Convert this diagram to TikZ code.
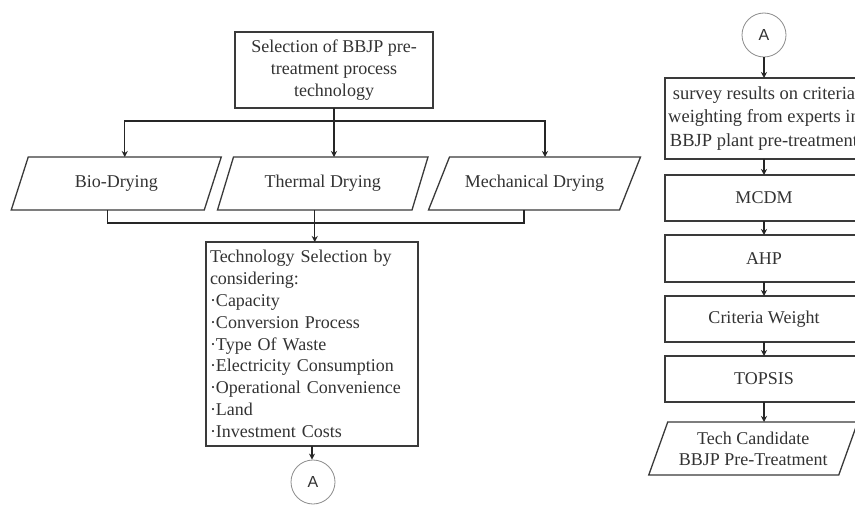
\documentclass[tikz,border=0pt]{standalone}
\usepackage{fontspec}
\setmainfont{Liberation Serif}
\newfontfamily\circfont{Liberation Sans}
\usetikzlibrary{arrows.meta,calc}
\definecolor{ink}{HTML}{333333}
\definecolor{rim}{HTML}{3A3A3A}
\definecolor{ringgray}{HTML}{8C8C8C}
% slanted outline around a plain node: #1 node name, #2 half of the slant
\newcommand\drawpgram[2]{%
  \draw[pgline] ($(#1.north west)+(#2,0)$) -- ($(#1.north east)+(#2,0)$)
    -- ($(#1.south east)-(#2,0)$) -- ($(#1.south west)-(#2,0)$) -- cycle;
  \coordinate (#1-in) at ($(#1.north)+(#2,0)$);
  \coordinate (#1-out) at ($(#1.south)-(#2,0)$);}
\begin{document}
\begin{tikzpicture}[x=1pt,y=1pt,
  txt/.style={font=\fontsize{18}{21.8}\selectfont, text=ink},
  box/.style={txt, draw=rim, line width=1.3pt, inner sep=0pt, outer sep=0pt, align=center},
  slab/.style={txt, inner sep=0pt, outer sep=0pt, align=center, minimum height=53pt},
  pgline/.style={draw=rim, line width=1.3pt, line join=miter},
  link/.style={draw=black!85, line width=1.3pt},
  arr/.style={link, -{Stealth[length=6pt,width=6pt]}},
  conn/.style={circle, draw=ringgray, line width=0.8pt, minimum size=44pt, inner sep=0pt,
    font=\circfont\fontsize{16}{16}\selectfont, text=ink}
]
\useasboundingbox (0,-506) rectangle (855,0);
\clip (0,-506) rectangle (855,0);
\fill[white] (0,-506) rectangle (855,0);

% ---- left column: choice of pre-treatment technology ----
\node[box, minimum width=198pt, minimum height=76pt] (sel) at (334,-70)
  {Selection of BBJP pre-\\treatment process\\technology};

\node[slab, minimum width=193pt] (bio) at (116.25,-183.5) {Bio-Drying};
\node[slab, minimum width=194.5pt] (thermal) at (322.75,-183.5) {Thermal Drying};
\node[slab, minimum width=191pt] (mech) at (534.5,-183.5) {Mechanical Drying};
\drawpgram{bio}{8.5}
\drawpgram{thermal}{8}
\drawpgram{mech}{10.5}

\node[box, minimum width=212pt, minimum height=204pt, text width=204pt, align=left] (tech) at (312,-344)
  {Technology Selection by\\considering:\\·Capacity\\·Conversion Process\\·Type Of Waste\\%
   ·Electricity Consumption\\·Operational Convenience\\·Land\\·Investment Costs};

\node[conn] (ca) at (313,-482) {A};

\draw[arr] (sel.south) -- ++(0,-13) -| (bio-in);
\draw[arr] (sel.south) -- (sel.south |- thermal-in);
\draw[arr] (sel.south) -- ++(0,-13) -| (mech-in);
\draw[link] (bio-out) -- ++(0,-13) -| (mech-out);
\draw[arr] (thermal-out) -- (thermal-out |- tech.north);
\draw[arr] (tech.south) -- (tech.south |- ca.north);

% ---- right column: weighting and ranking ----
\node[conn] (cb) at (764,-35) {A};
\node[box, minimum width=198pt, minimum height=81pt, font=\fontsize{18.5}{23.5}\selectfont] (survey) at (764,-118.5)
  {survey results on criteria\\weighting from experts in\\BBJP plant pre-treatment};
\node[box, minimum width=198pt, minimum height=46pt] (mcdm) at (764,-198) {MCDM};
\node[box, minimum width=198pt, minimum height=47pt] (ahp) at (764,-258.5) {AHP};
\node[box, minimum width=198pt, minimum height=46pt] (crit) at (764,-319) {Criteria Weight};
\node[box, minimum width=198pt, minimum height=46pt] (topsis) at (764,-379) {TOPSIS};
\node[slab, minimum width=190pt, font=\fontsize{18}{21}\selectfont] (cand) at (753.25,-448.5)
  {Tech Candidate\\BBJP Pre-Treatment};
\drawpgram{cand}{9.5}

\draw[arr] (cb.south) -- (survey.north);
\draw[arr] (survey.south) -- (mcdm.north);
\draw[arr] (mcdm.south) -- (ahp.north);
\draw[arr] (ahp.south) -- (crit.north);
\draw[arr] (crit.south) -- (topsis.north);
\draw[arr] (topsis.south) -- (topsis.south |- cand.north);
\end{tikzpicture}
\end{document}
